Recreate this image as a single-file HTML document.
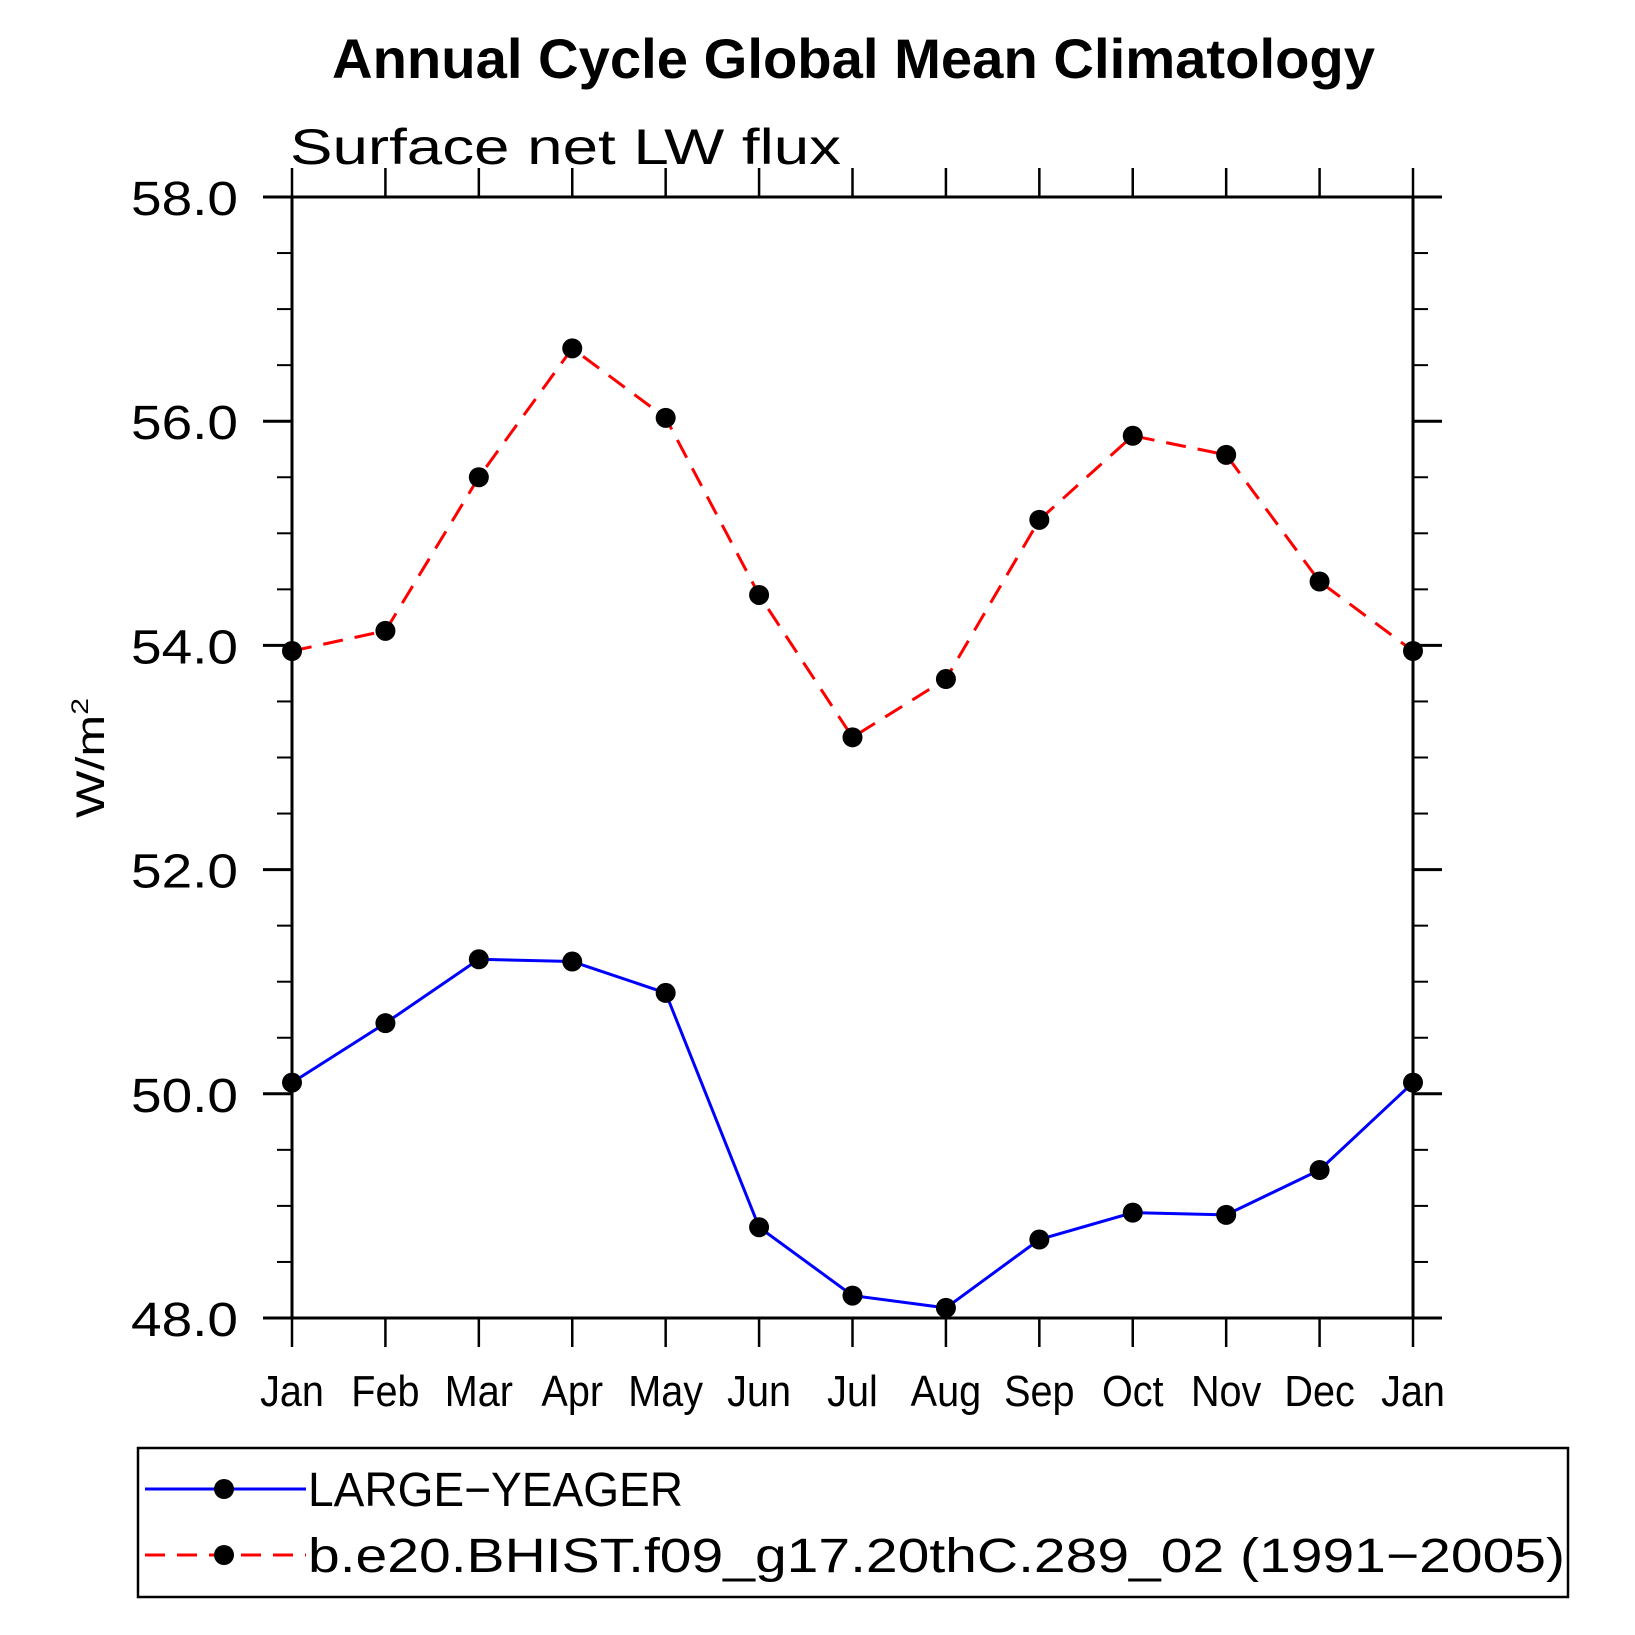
<!DOCTYPE html>
<html><head><meta charset="utf-8"><style>html,body{margin:0;padding:0;background:#fff}svg{display:block}text{font-family:"Liberation Sans",sans-serif;fill:#000}</style></head>
<body>
<svg id="chart" width="1635" height="1635" viewBox="0 0 1635 1635" xmlns="http://www.w3.org/2000/svg">
<text x="332" y="78" font-size="56" font-weight="bold" textLength="1043" lengthAdjust="spacingAndGlyphs">Annual Cycle Global Mean Climatology</text>
<text x="290" y="164" font-size="50" font-weight="300" textLength="551" lengthAdjust="spacingAndGlyphs">Surface net LW flux</text>
<text transform="translate(104,758) rotate(-90)" text-anchor="middle" font-size="40" textLength="120" lengthAdjust="spacingAndGlyphs">W/m<tspan font-size="24" dy="-16">2</tspan></text>
<g id="axes"></g>
<g id="series"></g>
<g>
<rect x="138" y="1448" width="1430" height="149" fill="none" stroke="#000" stroke-width="2.5"/>
<g>
<line x1="145" y1="1489" x2="306" y2="1489" stroke="#0000ff" stroke-width="3"/>
<circle cx="224" cy="1489" r="10" fill="#000"/>
<text x="308" y="1506" font-size="48" textLength="375" lengthAdjust="spacingAndGlyphs">LARGE−YEAGER</text>
</g>
<g>
<line x1="145" y1="1555" x2="306" y2="1555" stroke="#ff0000" stroke-width="3" stroke-dasharray="20,12"/>
<circle cx="224" cy="1555" r="10" fill="#000"/>
<text x="308" y="1572" font-size="48" textLength="1257" lengthAdjust="spacingAndGlyphs">b.e20.BHIST.f09_g17.20thC.289_02 (1991−2005)</text>
</g>
</g>
</svg>
<script>
const months = ["Jan","Feb","Mar","Apr","May","Jun","Jul","Aug","Sep","Oct","Nov","Dec","Jan"];
const largeYeager = [50.10,50.63,51.20,51.18,50.90,48.81,48.20,48.09,48.70,48.94,48.92,49.32,50.10];
const bhist = [53.95,54.13,55.50,56.65,56.03,54.45,53.18,53.70,55.12,55.87,55.70,54.57,53.95];
const yTickLabels = ["48.0","50.0","52.0","54.0","56.0","58.0"];
const yTickValues = [48,50,52,54,56,58];
const NS="http://www.w3.org/2000/svg";
const L=292,R=1413,T=197,B=1318,yMin=48,yMax=58;
const xs=i=>L+(R-L)*i/(months.length-1);
const ys=v=>B-(v-yMin)/(yMax-yMin)*(B-T);
function mk(tag,at,parent){const e=document.createElementNS(NS,tag);for(const k in at)e.setAttribute(k,at[k]);parent.appendChild(e);return e;}
const ax=document.getElementById('axes');
const frame=mk('rect',{x:L,y:T,width:R-L,height:B-T,fill:'none',stroke:'#000','stroke-width':3},ax);


for(let v=yMin;v<=yMax+1e-9;v+=0.5){
  const major=Math.abs(v-Math.round(v/2)*2)<1e-9;
  const len=major?29:15,y=ys(v);
  const t1=mk('line',{x1:L-len,y1:y,x2:L,y2:y,stroke:'#000','stroke-width':major?3:2},ax);
  
  
  const t2=mk('line',{x1:R,y1:y,x2:R+len,y2:y,stroke:'#000','stroke-width':major?3:2},ax);
  
  
}
yTickLabels.forEach((lab,i)=>{
  const t=mk('text',{x:238,y:ys(yTickValues[i])+18,'font-size':48,'text-anchor':'end',textLength:107,lengthAdjust:'spacingAndGlyphs','font-weight':'300'},ax);
  t.textContent=lab;
  
  
});
months.forEach((m,i)=>{
  const x=xs(i);
  const a=mk('line',{x1:x,y1:B,x2:x,y2:B+29,stroke:'#000','stroke-width':2.5},ax);
  
  
  const b=mk('line',{x1:x,y1:T-29,x2:x,y2:T,stroke:'#000','stroke-width':2.5},ax);
  
  
  const t=mk('text',{x:x,y:1406,'font-size':44,'text-anchor':'middle','font-weight':'300',transform:'translate('+x+',0) scale(0.9,1) translate('+(-x)+',0)'},ax);
  t.textContent=m;
  
  
});
const sg=document.getElementById('series');
function drawSeries(vals,color,dash,name){
  const pts=vals.map((v,i)=>xs(i)+','+ys(v)).join(' ');
  const at={points:pts,fill:'none',stroke:color,'stroke-width':3};
  if(dash)at['stroke-dasharray']=dash;
  const pl=mk('polyline',at,sg);
  
  
  vals.forEach((v,i)=>{
    const c=mk('circle',{cx:xs(i),cy:ys(v),r:10,fill:'#000'},sg);
    
    
  });
}
drawSeries(bhist,'#ff0000','20,12','bhist');
drawSeries(largeYeager,'#0000ff',null,'large-yeager');
</script>
</body></html>
